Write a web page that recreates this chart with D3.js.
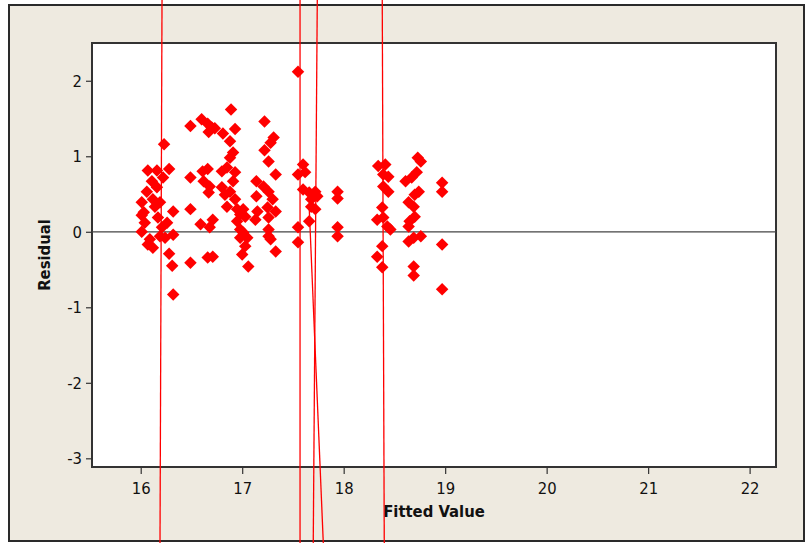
<!DOCTYPE html>
<html>
<head>
<meta charset="utf-8">
<script src="https://cdn.jsdelivr.net/npm/d3@7"></script>
<style>
  html, body { margin: 0; padding: 0; background: #ffffff; }
  svg { display: block; }
  .tick text { font-family: "DejaVu Sans Condensed", "DejaVu Sans", sans-serif; font-size: 16.5px; fill: #111; }
</style>
</head>
<body>
<svg id="chart" width="805" height="543"></svg>
<script>
// ---- data ----
const fitted = [
  16.01,16.01,16.01,16.03,16.04,16.06,16.07,16.07,16.09,16.11,16.12,16.12,16.14,16.16,16.16,16.17,16.19,16.19,16.21,16.22,16.23,16.24,16.26,16.28,16.28,16.32,16.32,16.31,16.32,
  16.49,16.60,16.66,16.70,16.67,16.73,16.49,16.61,16.66,16.62,16.68,16.67,16.49,16.59,16.68,16.71,16.49,16.66,16.71,
  16.89,16.81,16.93,16.88,16.91,16.88,16.80,16.85,16.93,16.91,16.80,16.83,16.88,16.85,16.93,16.95,16.98,17.01,16.95,17.03,16.98,17.01,16.98,17.05,17.03,17.00,17.06,
  17.22,17.31,17.28,17.22,17.26,17.33,17.14,17.21,17.26,17.30,17.14,17.15,17.25,17.33,17.13,17.26,17.26,17.26,17.28,17.33,
  17.55,17.60,17.55,17.62,17.60,17.66,17.72,17.74,17.68,17.68,17.72,17.66,17.55,17.55,
  17.94,17.94,17.94,17.94,
  18.34,18.41,18.39,18.44,18.39,18.44,18.38,18.33,18.39,18.43,18.46,18.38,18.33,18.38,
  18.73,18.76,18.72,18.67,18.61,18.74,18.70,18.64,18.69,18.70,18.65,18.64,18.69,18.76,18.64,18.69,18.69,
  18.97,18.97,18.97,18.97
];
const residual = [
  0.39,0.22,0.00,0.26,0.12,0.53,0.81,-0.17,-0.10,0.67,0.43,-0.21,0.33,0.81,0.59,0.19,0.39,-0.06,0.06,0.72,1.16,-0.08,0.12,0.83,-0.29,0.27,-0.04,-0.45,-0.83,
  1.40,1.49,1.43,1.38,1.32,1.37,0.72,0.80,0.83,0.67,0.60,0.52,0.30,0.10,0.06,0.16,-0.41,-0.34,-0.33,
  1.62,1.30,1.36,1.20,1.05,0.98,0.80,0.85,0.79,0.67,0.59,0.49,0.53,0.33,0.43,0.30,0.23,0.30,0.14,0.20,0.03,-0.01,-0.08,-0.08,-0.19,-0.30,-0.46,
  1.46,1.25,1.18,1.08,0.93,0.76,0.67,0.60,0.53,0.43,0.47,0.27,0.32,0.27,0.16,0.19,0.03,-0.06,-0.10,-0.26,
  2.12,0.89,0.76,0.79,0.56,0.52,0.53,0.47,0.43,0.33,0.30,0.14,0.06,-0.14,
  0.53,0.44,0.06,-0.06,
  0.87,0.89,0.76,0.73,0.60,0.53,0.32,0.16,0.19,0.07,0.03,-0.19,-0.33,-0.47,
  0.98,0.93,0.79,0.72,0.67,0.53,0.49,0.39,0.33,0.20,0.14,0.07,-0.08,-0.06,-0.13,-0.46,-0.58,
  0.65,0.53,-0.17,-0.76
];
const xTicks = [16, 17, 18, 19, 20, 21, 22];
const yTicks = [-3, -2, -1, 0, 1, 2];
const xTickLabels = ["16", "17", "18", "19", "20", "21", "22"];
const yTickLabels = ["-3", "-2", "-1", "0", "1", "2"];
// red reference lines: [fitted start, residual start, fitted end, residual end]
const lineStartX = [16.21, 17.57, 17.74, 17.66, 18.38];
const lineStartY = [3.1, 3.1, 3.1, 0.33, 3.1];
const lineEndX   = [16.19, 17.57, 17.70, 17.80, 18.40];
const lineEndY   = [-4.15, -4.15, -4.15, -4.15, -4.15];

// ---- layout ----
const plot = { left: 92, right: 776, top: 43, bottom: 467 };
const svg = d3.select("#chart");

const x = d3.scaleLinear().domain([15.52, 22.26]).range([plot.left, plot.right]);
const y = d3.scaleLinear().domain([-3.115, 2.50]).range([plot.bottom, plot.top]);

// outer frame
svg.append("rect").attr("x", 9).attr("y", 5).attr("width", 795).attr("height", 536)
  .attr("fill", "#EEEAE0").attr("stroke", "#2a2a2a").attr("stroke-width", 2);

// plot area
svg.append("rect").attr("x", plot.left).attr("y", plot.top)
  .attr("width", plot.right - plot.left).attr("height", plot.bottom - plot.top)
  .attr("fill", "#ffffff").attr("stroke", "#333333").attr("stroke-width", 2);

// axes
const xAxis = svg.append("g").attr("transform", `translate(0,${plot.bottom})`)
  .call(d3.axisBottom(x).tickValues(xTicks).tickSize(7).tickPadding(8)
    .tickFormat((d, i) => xTickLabels[i]));
const yAxis = svg.append("g").attr("transform", `translate(${plot.left},0)`)
  .call(d3.axisLeft(y).tickValues(yTicks).tickSize(6).tickPadding(4)
    .tickFormat((d, i) => yTickLabels[i]));
[xAxis, yAxis].forEach(g => {
  g.select(".domain").remove();
  g.selectAll(".tick line").attr("stroke", "#333").attr("stroke-width", 1.2);
});

// zero reference line
svg.append("line")
  .attr("x1", plot.left).attr("x2", plot.right)
  .attr("y1", y(0)).attr("y2", y(0))
  .attr("stroke", "#444").attr("stroke-width", 1.2);

// diamonds
const pts = fitted.map((f, i) => ({ f, r: residual[i] }));
const diamond = d3.symbol().type(d3.symbolSquare).size(78);
svg.append("g").selectAll("path").data(pts).join("path")
  .attr("d", diamond)
  .attr("transform", d => `translate(${x(d.f)},${y(d.r)}) rotate(45)`)
  .attr("fill", "#FF0000");

// red lines
svg.append("g").selectAll("line").data(lineStartX.map((v, i) => i)).join("line")
  .attr("x1", i => x(lineStartX[i])).attr("y1", i => y(lineStartY[i]))
  .attr("x2", i => x(lineEndX[i])).attr("y2", i => y(lineEndY[i]))
  .attr("stroke", "#FF0000").attr("stroke-width", 1.3);

// axis titles
svg.append("text")
  .attr("x", (plot.left + plot.right) / 2).attr("y", 517)
  .attr("text-anchor", "middle")
  .attr("font-family", "'DejaVu Sans Condensed', 'DejaVu Sans', sans-serif")
  .attr("font-weight", "bold").attr("font-size", 16.5).attr("fill", "#111")
  .text("Fitted Value");
svg.append("text")
  .attr("transform", `translate(50,255) rotate(-90)`)
  .attr("text-anchor", "middle")
  .attr("font-family", "'DejaVu Sans Condensed', 'DejaVu Sans', sans-serif")
  .attr("font-weight", "bold").attr("font-size", 16.5).attr("fill", "#111")
  .text("Residual");
</script>
</body>
</html>
